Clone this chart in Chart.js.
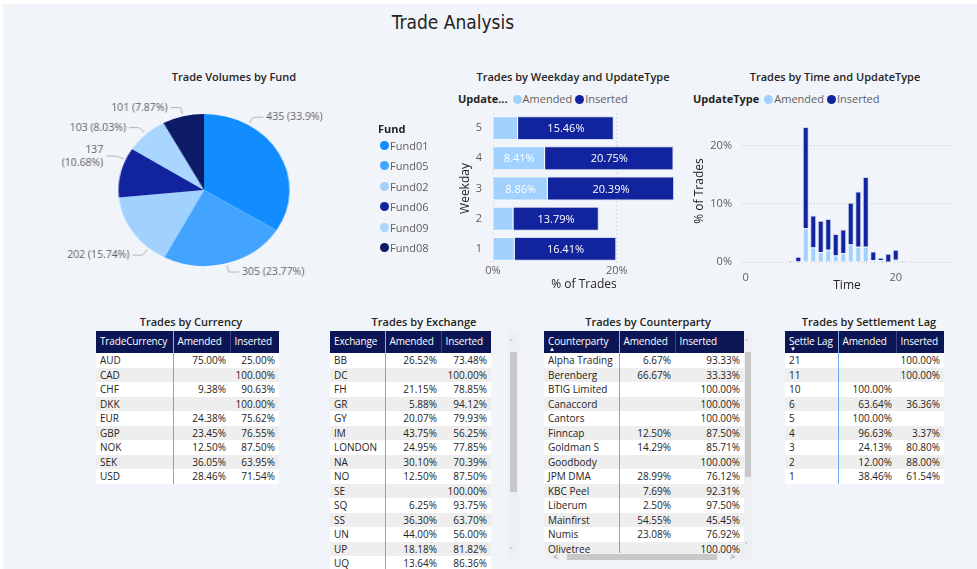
<!DOCTYPE html>
<html>
<head>
<meta charset="utf-8">
<title>Trade Analysis</title>
<script src="https://cdn.jsdelivr.net/npm/chart.js@4.4.1/dist/chart.umd.min.js"></script>
<style>
  html, body { margin: 0; padding: 0; background: #fff; }
  body { width: 977px; height: 569px; position: relative; overflow: hidden;
         font-family: "Open Sans", "Noto Sans", sans-serif; color: #252423; }
  #page { position: absolute; left: 3px; top: 4px; width: 974px; height: 565px; background: #f1f4f9; }
  .abs { position: absolute; }
  .mainTitle { left: 353px; width: 200px; top: 10px; text-align: center; font-size: 19px; line-height: 24px;
               font-family: "DejaVu Sans Condensed", "Liberation Sans Narrow", "DejaVu Sans", sans-serif;
               font-stretch: condensed; color: #252423; }
  .vtitle { width: 240px; text-align: center; font-size: 11px; font-weight: 600; color: #252423; line-height: 14px; }
  .legend { font-size: 11px; color: #605e5c; display: flex; align-items: center; white-space: nowrap; line-height: 14px; }
  .legend b { color: #252423; font-weight: 700; margin-right: 2px; }
  .dot { display: inline-block; width: 9px; height: 9px; border-radius: 50%; margin: 0 1px 0 3px; }
  .fundLegend { font-size: 11px; color: #605e5c; line-height: 20.4px; }
  .fundLegend b { color: #252423; display: block; line-height: 14px; margin-bottom: 0px; }
  .fundLegend .dot { margin: 0 1px 0 2px; }
  table { border-collapse: collapse; table-layout: fixed; font-size: 10px; }
  th { background: #0c1654; color: #fff; font-weight: 400; font-size: 10px; letter-spacing: -0.15px; text-align: left;
       height: 22px; padding: 0 0 2px 4px; border-left: 1px solid #3a4581; white-space: nowrap; overflow: hidden;
       position: relative; box-sizing: border-box; }
  th:first-child { border-left: none; border-right: 1px solid #7fb3ea; }
  td { height: 14.5px; padding: 0 4px; white-space: nowrap; overflow: hidden; text-align: right; color: #252423;
       line-height: 14.5px; box-sizing: border-box; }
  td:first-child { text-align: left; border-right: 1px solid #6ea9ea; }
  tr:nth-child(odd) td { background: #fff; }
  tr:nth-child(even) td { background: #eeeeee; }
  .sort { position: absolute; left: 5px; bottom: 1px; font-size: 6px; line-height: 6px; color: #fff; }
  .clip { position: absolute; overflow: hidden; }
  .track { position: absolute; background: #eef0f3; }
  .thumb { position: absolute; background: #c8c8c8; }
  .arrow { position: absolute; font-size: 9px; color: #8a8886; line-height: 9px; }
</style>
</head>
<body>
<div id="page"></div>

<div class="abs mainTitle">Trade Analysis</div>

<!-- pie -->
<div class="abs vtitle" style="left:114px; top:70px;">Trade Volumes by Fund</div>
<div class="abs" id="pieWrap" style="left:34px; top:90px; width:340px; height:200px; transform:scaleX(1.125); transform-origin:170px 100px;">
  <canvas id="fundChart" width="340" height="200"></canvas>
</div>
<div class="abs fundLegend" id="fundLegend" style="left:378px; top:122px; z-index:2;"></div>

<!-- weekday -->
<div class="abs vtitle" style="left:453px; top:70px;">Trades by Weekday and UpdateType</div>
<div class="abs legend" style="left:458px; top:92px;"><b>Update...</b><span class="dot" style="background:#a0d1ff"></span>Amended<span class="dot" style="background:#12239e"></span>Inserted</div>
<canvas id="weekdayChart" class="abs" style="left:458px; top:105px;" width="227" height="187"></canvas>

<!-- time -->
<div class="abs vtitle" style="left:715px; top:70px;">Trades by Time and UpdateType</div>
<div class="abs legend" style="left:693px; top:92px;"><b>UpdateType</b><span class="dot" style="background:#a0d1ff"></span>Amended<span class="dot" style="background:#12239e"></span>Inserted</div>
<canvas id="timeChart" class="abs" style="left:692px; top:110px;" width="275" height="183"></canvas>

<!-- tables -->
<div class="abs vtitle" style="left:71px; top:315px;">Trades by Currency</div>
<div class="clip" id="currencyTable" style="left:96px; top:331px; width:184px; height:160px;"></div>

<div class="abs vtitle" style="left:304px; top:315px;">Trades by Exchange</div>
<div class="clip" id="exchangeTable" style="left:330px; top:331px; width:162px; height:238px;"></div>
<div class="track" style="left:508px; top:331px; width:11px; height:228px;"></div>
<div class="thumb" style="left:510px; top:352px; width:7px; height:140px;"></div>
<div class="arrow" style="left:510px; top:338px;">&#708;</div>
<div class="arrow" style="left:510px; top:546px;">&#709;</div>

<div class="abs vtitle" style="left:528px; top:315px;">Trades by Counterparty</div>
<div class="clip" id="counterpartyTable" style="left:544px; top:331px; width:201px; height:222px;"></div>
<div class="track" style="left:744px; top:331px; width:8px; height:222px;"></div>
<div class="thumb" style="left:745px; top:352px; width:6px; height:125px;"></div>
<div class="arrow" style="left:745px; top:338px;">&#708;</div>
<div class="arrow" style="left:745px; top:541px;">&#709;</div>
<div class="track" style="left:544px; top:553px; width:208px; height:8px;"></div>
<div class="thumb" style="left:567px; top:554px; width:150px; height:6px;"></div>
<div class="arrow" style="left:553px; top:552px;">&lt;</div>
<div class="arrow" style="left:730px; top:552px;">&gt;</div>

<div class="abs vtitle" style="left:749px; top:315px;">Trades by Settlement Lag</div>
<div class="clip" id="settleTable" style="left:785px; top:331px; width:160px; height:160px;"></div>

<script>
// Volumes par fonds (camembert)
const funds = ['Fund01', 'Fund05', 'Fund02', 'Fund06', 'Fund09', 'Fund08'];
const fundTrades = [435, 305, 202, 137, 103, 101];
const fundColors = ['#118dff', '#42a4ff', '#a0d1ff', '#12239e', '#a8d6ff', '#0d1a68'];

// % des trades par jour de semaine
const weekdays = ['5', '4', '3', '2', '1'];
const amendedByDay = [4.05, 8.41, 8.86, 3.30, 3.50];
const insertedByDay = [15.46, 20.75, 20.39, 13.79, 16.41];

// % des trades par heure
const hours = ['0', '1', '2', '3', '4', '5', '6', '7', '8', '9', '10', '11', '12', '13',
               '14', '15', '16', '17', '18', '19', '20', '21', '22', '23', '24', '25', '26', '27'];
const amendedByHour = [0, 0, 0, 0, 0, 0, 0, 0.1, 5.8, 2.5, 1.7, 2.1, 1.1, 1.5,
                       3.0, 2.6, 2.6, 0.3, 0.3, 0.05, 0.4, 0, 0, 0, 0, 0, 0, 0];
const insertedByHour = [0, 0, 0, 0, 0.1, 0, 0.2, 0.8, 17.4, 5.5, 5.4, 5.3, 3.7, 4.1,
                        7.2, 9.5, 12.0, 1.5, 0.45, 1.35, 1.7, 0.2, 0, 0, 0, 0, 0, 0];
const hourTicks = ['0', '20'];

// Tableaux
const currencyNames = ['AUD', 'CAD', 'CHF', 'DKK', 'EUR', 'GBP', 'NOK', 'SEK', 'USD'];
const currencyAmended = [75.00, null, 9.38, null, 24.38, 23.45, 12.50, 36.05, 28.46];
const currencyInserted = [25.00, 100.00, 90.63, 100.00, 75.62, 76.55, 87.50, 63.95, 71.54];

const exchangeNames = ['BB', 'DC', 'FH', 'GR', 'GY', 'IM', 'LONDON', 'NA', 'NO', 'SE', 'SQ', 'SS', 'UN', 'UP', 'UQ'];
const exchangeAmended = [26.52, null, 21.15, 5.88, 20.07, 43.75, 24.95, 30.10, 12.50, null, 6.25, 36.30, 44.00, 18.18, 13.64];
const exchangeInserted = [73.48, 100.00, 78.85, 94.12, 79.93, 56.25, 77.85, 70.39, 87.50, 100.00, 93.75, 63.70, 56.00, 81.82, 86.36];

const counterpartyNames = ['Alpha Trading', 'Berenberg', 'BTIG Limited', 'Canaccord', 'Cantors', 'Finncap', 'Goldman S',
                           'Goodbody', 'JPM DMA', 'KBC Peel', 'Liberum', 'Mainfirst', 'Numis', 'Olivetree'];
const counterpartyAmended = [6.67, 66.67, null, null, null, 12.50, 14.29, null, 28.99, 7.69, 2.50, 54.55, 23.08, null];
const counterpartyInserted = [93.33, 33.33, 100.00, 100.00, 100.00, 87.50, 85.71, 100.00, 76.12, 92.31, 97.50, 45.45, 76.92, 100.00];

const settleLags = ['21', '11', '10', '6', '5', '4', '3', '2', '1'];
const settleAmended = [null, null, 100.00, 63.64, 100.00, 96.63, 24.13, 12.00, 38.46];
const settleInserted = [100.00, 100.00, null, 36.36, null, 3.37, 80.80, 88.00, 61.54];

const AMENDED_COLOR = '#a0d1ff';
const INSERTED_COLOR = '#12239e';
const PIE_STRETCH = 1.125;
const PIE_LABEL_SHIFT = [-30, 0, -16, 10, 0, 0]; // degrés

Chart.defaults.font.family = '"Segoe UI", "Open Sans", sans-serif';
Chart.defaults.color = '#605e5c';

function pct(v) {
    return v === null ? '' : v.toFixed(2) + '%';
}

// pas de marge auto pour les libellés d'axe
function noLabelPadding(s) {
    s.paddingTop = 0;
    s.paddingBottom = 0;
}

// Légende des fonds
const fundLegend = document.getElementById('fundLegend');
fundLegend.innerHTML = '<b>Fund</b>' + funds.map((f, i) =>
    `<div><span class="dot" style="background:${fundColors[i]}"></span>${f}</div>`).join('');

// Étiquettes du camembert avec lignes de rappel
const pieLabels = {
    id: 'pieLabels',
    afterDatasetsDraw(chart) {
        const ctx = chart.ctx;
        const meta = chart.getDatasetMeta(0);
        const total = fundTrades.reduce((a, b) => a + b, 0);
        const cx = meta.data[0].x, cy = meta.data[0].y;
        ctx.save();
        ctx.translate(cx, 0);
        ctx.scale(1 / PIE_STRETCH, 1);
        ctx.translate(-cx, 0);
        ctx.font = '10.5px "Segoe UI", "Open Sans", sans-serif';
        ctx.strokeStyle = '#b3b0ad';
        ctx.fillStyle = '#605e5c';
        ctx.lineWidth = 1;
        ctx.textBaseline = 'middle';
        meta.data.forEach((arc, i) => {
            const a = (arc.startAngle + arc.endAngle) / 2 + PIE_LABEL_SHIFT[i] * Math.PI / 180;
            const r = arc.outerRadius;
            const cos = Math.cos(a), sin = Math.sin(a);
            const x0 = cx + (r + 2) * cos * PIE_STRETCH, y0 = cy + (r + 2) * sin;
            const x1 = cx + (r + 9) * cos * PIE_STRETCH, y1 = cy + (r + 9) * sin;
            const dir = cos >= 0 ? 1 : -1;
            const x2 = x1 + dir * 10;
            ctx.beginPath();
            ctx.moveTo(x0, y0);
            ctx.lineTo(x1, y1);
            ctx.lineTo(x2, y1);
            ctx.stroke();
            const share = (fundTrades[i] / total * 100).toFixed(2).replace(/0$/, '');
            const text = `${fundTrades[i]} (${share}%)`;
            const tx = x2 + dir * 3;
            ctx.textAlign = dir > 0 ? 'left' : 'right';
            const w = ctx.measureText(text).width;
            if (dir < 0 && tx - w < cx - 150) {
                ctx.fillText(String(fundTrades[i]), tx, y1 - 6.5);
                ctx.fillText(`(${share}%)`, tx, y1 + 6.5);
            } else {
                ctx.fillText(text, tx, y1);
            }
        });
        ctx.restore();
    }
};

new Chart(document.getElementById('fundChart'), {
    type: 'pie',
    data: {
        labels: funds,
        datasets: [{ data: fundTrades, backgroundColor: fundColors, borderWidth: 0 }]
    },
    options: {
        responsive: false,
        animation: false,
        radius: 76,
        layout: { padding: 0 },
        plugins: { legend: { display: false }, tooltip: { enabled: false } }
    },
    plugins: [pieLabels]
});

// Étiquettes blanches dans les barres horizontales
const barLabels = {
    id: 'barLabels',
    afterDatasetsDraw(chart) {
        const ctx = chart.ctx;
        ctx.save();
        ctx.font = '11px "Segoe UI", "Open Sans", sans-serif';
        ctx.fillStyle = '#fff';
        ctx.textAlign = 'center';
        ctx.textBaseline = 'middle';
        chart.data.datasets.forEach((ds, di) => {
            chart.getDatasetMeta(di).data.forEach((bar, i) => {
                const w = Math.abs(bar.x - bar.base);
                const text = pct(ds.data[i]);
                if (ctx.measureText(text).width + 8 > w) return;
                ctx.fillText(text, (bar.x + bar.base) / 2, bar.y + 1);
            });
        });
        ctx.restore();
    }
};

const axisTitleFont = { size: 12 };
const tickFont = { size: 11 };

new Chart(document.getElementById('weekdayChart'), {
    type: 'bar',
    data: {
        labels: weekdays,
        datasets: [
            { label: 'Amended', data: amendedByDay, backgroundColor: AMENDED_COLOR, borderColor: 'rgba(255,255,255,0.5)', borderWidth: 1 },
            { label: 'Inserted', data: insertedByDay, backgroundColor: INSERTED_COLOR, borderColor: 'rgba(190,200,240,0.7)', borderWidth: 1 }
        ]
    },
    options: {
        indexAxis: 'y',
        responsive: false,
        animation: false,
        layout: { padding: { top: 8, right: 10, left: 0, bottom: 0 } },
        datasets: { bar: { barPercentage: 0.79, categoryPercentage: 1 } },
        plugins: { legend: { display: false }, tooltip: { enabled: false } },
        scales: {
            x: {
                stacked: true, min: 0, max: 29.4,
                ticks: { stepSize: 20, includeBounds: false, callback: v => v + '%', font: tickFont, padding: 0 },
                grid: { color: '#c8c6c4', drawTicks: false },
                border: { display: false, dash: [1, 3] },
                title: { display: true, text: '% of Trades', color: '#252423', font: axisTitleFont, padding: 0 },
                afterFit: s => { s.height = 28; s.paddingLeft = 0; s.paddingRight = 0; }
            },
            y: {
                stacked: true,
                ticks: { font: tickFont, padding: 3 },
                grid: { display: false },
                border: { display: false },
                title: { display: true, text: 'Weekday', color: '#252423', font: axisTitleFont, padding: 0 },
                afterFit: s => { s.width = 35; noLabelPadding(s); }
            }
        }
    },
    plugins: [barLabels]
});

new Chart(document.getElementById('timeChart'), {
    type: 'bar',
    data: {
        labels: hours,
        datasets: [
            { label: 'Amended', data: amendedByHour, backgroundColor: AMENDED_COLOR, borderColor: 'rgba(255,255,255,0.5)', borderWidth: 1 },
            { label: 'Inserted', data: insertedByHour, backgroundColor: INSERTED_COLOR, borderColor: 'rgba(190,200,240,0.7)', borderWidth: 1 }
        ]
    },
    options: {
        responsive: false,
        animation: false,
        layout: { padding: { top: 10, right: 15, left: 0, bottom: 0 } },
        datasets: { bar: { barPercentage: 0.8, categoryPercentage: 1 } },
        plugins: { legend: { display: false }, tooltip: { enabled: false } },
        scales: {
            x: {
                stacked: true,
                ticks: {
                    autoSkip: false, maxRotation: 0, font: tickFont, padding: 1,
                    callback(v) {
                        const lab = this.getLabelForValue(v);
                        return hourTicks.includes(lab) ? lab : '';
                    }
                },
                grid: { display: false },
                border: { display: false },
                title: { display: true, text: 'Time', color: '#252423', font: axisTitleFont, padding: 0 },
                afterFit: s => { s.height = 31; s.paddingLeft = 0; s.paddingRight = 0; }
            },
            y: {
                stacked: true, min: 0, max: 24.4,
                ticks: { stepSize: 10, includeBounds: false, callback: v => v + '%', font: tickFont, padding: 10 },
                grid: { color: '#c8c6c4', drawTicks: false },
                border: { display: false, dash: [1, 3] },
                title: { display: true, text: '% of Trades', color: '#252423', font: axisTitleFont, padding: 0 },
                afterFit: s => { s.width = 50; noLabelPadding(s); }
            }
        }
    }
});

// Construction des tableaux HTML
function buildTable(id, headers, widths, names, amended, inserted, sortMark) {
    const cols = widths.map(w => `<col style="width:${w}px">`).join('');
    const head = headers.map((h, i) =>
        `<th>${h}${i === 0 && sortMark ? `<span class="sort">${sortMark}</span>` : ''}</th>`).join('');
    const body = names.map((n, i) =>
        `<tr><td>${n}</td><td>${pct(amended[i])}</td><td>${pct(inserted[i])}</td></tr>`).join('');
    const total = widths.reduce((a, b) => a + b, 0);
    document.getElementById(id).innerHTML =
        `<table style="width:${total}px"><colgroup>${cols}</colgroup><thead><tr>${head}</tr></thead><tbody>${body}</tbody></table>`;
}

buildTable('currencyTable', ['TradeCurrency', 'Amended', 'Inserted'], [77, 57, 49],
    currencyNames, currencyAmended, currencyInserted);
buildTable('exchangeTable', ['Exchange', 'Amended', 'Inserted'], [55, 56, 50],
    exchangeNames, exchangeAmended, exchangeInserted);
buildTable('counterpartyTable', ['Counterparty', 'Amended', 'Inserted'], [75, 56, 69],
    counterpartyNames, counterpartyAmended, counterpartyInserted, '&#9650;');
buildTable('settleTable', ['Settle Lag', 'Amended', 'Inserted'], [53, 58, 48],
    settleLags, settleAmended, settleInserted, '&#9660;');
</script>
</body>
</html>
